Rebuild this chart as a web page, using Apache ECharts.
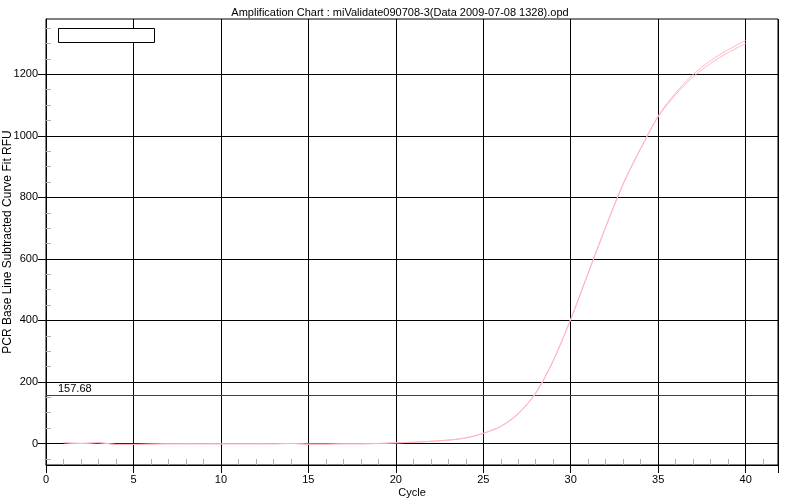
<!DOCTYPE html>
<html>
<head>
<meta charset="utf-8">
<script src="https://cdn.jsdelivr.net/npm/echarts@6/dist/echarts.min.js"></script>
<style>
html,body{margin:0;padding:0;background:#fff;}
#chart{width:800px;height:500px;}
</style>
</head>
<body>
<div id="chart"></div>
<script>
const cycles = [1,2,3,4,5,6,7,8,9,10,11,12,13,14,15,16,17,18,19,20,21,22,23,24,25,26,27,28,29,30,31,32,33,34,35,36,37,38,39,40];
const wellA = [3,0,3,-3,-3,-2,-1,-1,-1,-1,-1,-1,-1,0,-2,-2,-1,-1,0,2,4,7,11,18,33,56,98,165,270,405,555,705,845,960,1065,1140,1200,1245,1280,1310];
const wellB = [2,0,2,-3,-3,-2,-1,-1,-1,-1,-1,-1,-1,0,-2,-2,-1,-1,0,2,4,7,11,18,33,55,96,163,268,403,553,703,843,958,1062,1134,1192,1236,1271,1300];
const threshold = 157.68;
const yTicks = [0,200,400,600,800,1000,1200];
const yMinorTicks = [-50,50,100,150,250,300,350,450,500,550,650,700,750,850,900,950,1050,1100,1150,1250,1300,1350];
const xMinorTicks = [1,2,3,4,6,7,8,9,11,12,13,14,16,17,18,19,21,22,23,24,26,27,28,29,31,32,33,34,36,37,38,39,41];
const titleText = 'Amplification Chart : miValidate090708-3(Data 2009-07-08 1328).opd';
const xName = 'Cycle';
const yName = 'PCR Base Line Subtracted Curve Fit RFU';

const FONT = 'Liberation Sans, Arial, sans-serif';
const X_MIN = 0, X_MAX = 41.85, Y_MIN = -70, Y_MAX = 1380;
const PINK = '#ffb6c1';

const chart = echarts.init(document.getElementById('chart'), null, {renderer:'canvas'});
const toPairs = (xs, ys) => xs.map((x,i)=>[x, ys[i]]);

chart.setOption({
  animation: false,
  backgroundColor: '#fff',
  textStyle: {fontFamily: FONT},
  title: {
    text: titleText, left: 'center', top: 2,
    textStyle: {fontSize: 11, fontWeight: 'normal', color: '#000', fontFamily: FONT}
  },
  graphic: [{
    type: 'rect', left: 58, top: 28, z: 100,
    shape: {width: 96, height: 14},
    style: {fill: '#fff', stroke: '#000', lineWidth: 1}
  }],
  grid: {left: 46, right: 22, top: 19, bottom: 35, containLabel: false, outerBoundsMode: 'none',
    show: true, borderColor: '#000', borderWidth: 1, backgroundColor: 'transparent'},
  xAxis: [{
    type: 'value', min: X_MIN, max: X_MAX, interval: 5,
    name: xName, nameLocation: 'middle', nameGap: 22, nameMoveOverlap: false,
    nameTextStyle: {fontSize: 11, color: '#000', fontFamily: FONT},
    axisLine: {show: true, onZero: false, lineStyle: {color: '#000'}},
    axisTick: {show: true, length: 8, lineStyle: {color: '#000'}},
    axisLabel: {fontSize: 11, color: '#000', margin: 9, fontFamily: FONT,
      formatter: v => (v % 5 === 0 ? String(v) : '')},
    splitLine: {show: true, lineStyle: {color: '#000', width: 1}}
  },{
    type: 'value', min: X_MIN, max: X_MAX, position: 'bottom',
    axisLine: {show: false, onZero: false},
    axisTick: {show: true, inside: true, length: 6, customValues: xMinorTicks, lineStyle: {color: '#b0b0b0'}},
    axisLabel: {show: false},
    splitLine: {show: false}
  }],
  yAxis: [{
    type: 'value', min: Y_MIN, max: Y_MAX,
    name: yName, nameLocation: 'middle', nameGap: 32, nameRotate: 90, nameMoveOverlap: false,
    nameTextStyle: {fontSize: 12, color: '#000', fontFamily: FONT},
    axisLine: {show: true, onZero: false, lineStyle: {color: '#000'}},
    axisTick: {show: true, length: 8, customValues: yTicks, lineStyle: {color: '#000'}},
    axisLabel: {fontSize: 11, color: '#000', margin: 8, customValues: yTicks, fontFamily: FONT,
      formatter: v => String(v)},
    splitLine: {show: true, lineStyle: {color: '#000', width: 1}}
  },{
    type: 'value', min: Y_MIN, max: Y_MAX, position: 'left',
    axisLine: {show: false, onZero: false},
    axisTick: {show: true, inside: true, length: 5, customValues: yMinorTicks, lineStyle: {color: '#b0b0b0'}},
    axisLabel: {show: false},
    splitLine: {show: false}
  }],
  series: [{
    type: 'line', name: 'A', data: toPairs(cycles, wellA),
    showSymbol: false, smooth: 0.3, z: 5,
    lineStyle: {color: PINK, width: 1},
    markLine: {
      silent: true, symbol: ['none','none'], animation: false,
      lineStyle: {color: '#007000', width: 1, type: 'solid'},
      label: {show: true, position: 'insideStartTop', formatter: () => threshold.toFixed(2),
        color: '#000', fontSize: 11, fontFamily: FONT, distance: [12, 1]},
      data: [{yAxis: threshold}]
    }
  },{
    type: 'line', name: 'B', data: toPairs(cycles, wellB),
    showSymbol: false, smooth: 0.3, z: 5,
    lineStyle: {color: PINK, width: 1}
  }]
});
</script>
</body>
</html>
